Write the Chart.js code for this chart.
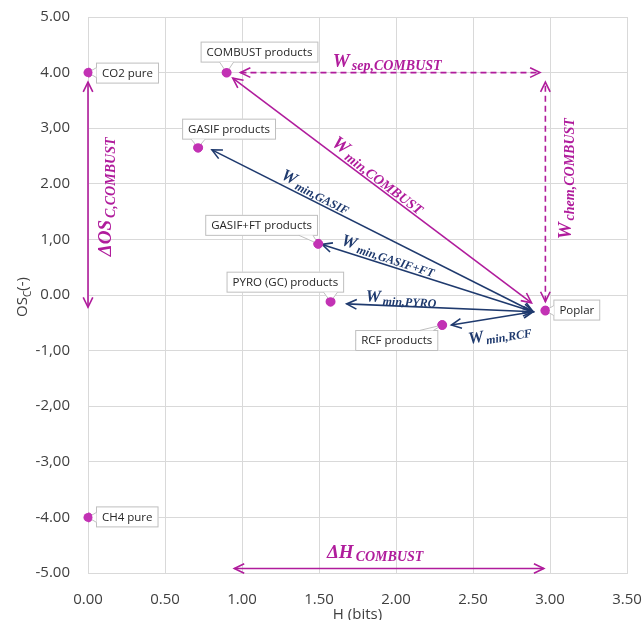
<!DOCTYPE html>
<html>
<head>
<meta charset="utf-8">
<script src="https://cdn.jsdelivr.net/npm/chart.js@4.4.1/dist/chart.umd.min.js"></script>
<style>
  html, body { margin: 0; padding: 0; background: #fff; }
</style>
</head>
<body>
<canvas id="chart" width="642" height="620"></canvas>
<script>
// points (H in bits, OSc)
const pointNames = ["CO2 pure", "COMBUST products", "GASIF products", "GASIF+FT products",
  "PYRO (GC) products", "RCF products", "Poplar", "CH4 pure"];
const hValues = [0, 0.90, 0.715, 1.495, 1.575, 2.30, 2.97, 0];
const oscValues = [4.0, 4.0, 2.65, 0.92, -0.12, -0.54, -0.28, -4.0];

// tick labels as printed on the picture
const xTickLabels = ["0.00", "0.50", "1.00", "1.50", "2.00", "2.50", "3.00", "3.50"];
const yTickValues = [5, 4, 3, 2, 1, 0, -1, -2, -3, -4, -5];
const yTickLabels = ["5.00", "4.00", "3,00", "2.00", "1,00", "0.00", "-1,00", "-2,00", "-3,00", "-4.00", "-5.00"];

// arrows, start -> end in data units
const arrowNames = ["Wmin,COMBUST", "Wmin,GASIF", "Wmin,GASIF+FT", "Wmin,PYRO", "Wmin,RCF",
  "Wsep,COMBUST", "Wchem,COMBUST", "dOSc,COMBUST", "dH,COMBUST"];
const arrowStartH = [0.94, 0.805, 1.52, 1.68, 2.36, 0.99, 2.97, 0, 0.95];
const arrowStartOS = [3.90, 2.61, 0.91, -0.16, -0.54, 4.0, -0.12, -0.22, -4.92];
const arrowEndH = [2.88, 2.89, 2.89, 2.89, 2.89, 2.935, 2.97, 0, 2.96];
const arrowEndOS = [-0.14, -0.30, -0.30, -0.30, -0.30, 4.0, 3.83, 3.83, -4.92];

const magenta = "#b01c9c";
const navy = "#1f3a6e";
const pointColor = "#c232b4";

// how each arrow and its caption look
const arrowStyles = [
  { color: magenta, dash: [], main: "W", sub: "min,COMBUST", t: 0.467, off: 12, size: 19 },
  { color: navy, dash: [], main: "W", sub: "min,GASIF", t: 0.31, off: 11, size: 17 },
  { color: navy, dash: [], main: "W", sub: "min,GASIF+FT", t: 0.30, off: 11, size: 17 },
  { color: navy, dash: [], main: "W", sub: "min,PYRO", t: 0.29, off: 9, size: 17 },
  { color: navy, dash: [], main: "W", sub: "min,RCF", t: 0.56, off: -16, size: 17 },
  { color: magenta, dash: [6, 4], main: "W", sub: "sep,COMBUST", t: 0.49, off: 12, size: 19 },
  { color: magenta, dash: [6, 4], main: "W", sub: "chem,COMBUST", t: 0.56, off: -19, size: 19 },
  { color: magenta, dash: [], main: "ΔOS", sub: "C,COMBUST", t: 0.49, off: -17, size: 19 },
  { color: magenta, dash: [], main: "ΔH", sub: "COMBUST", t: 0.455, off: 17, size: 19 }
];

// label box offsets from the point (left, top)
const labelOffsets = [[8, -10], [-26, -31], [-16, -29], [-113, -29], [-104, -30], [-87, 5], [8, -11], [8, -11]];

function drawCaption(ctx, main, sub, x, y, angle, color, size) {
  const subSize = Math.round(size * 0.72);
  ctx.save();
  ctx.translate(x, y);
  ctx.rotate(angle);
  ctx.fillStyle = color;
  ctx.textBaseline = "alphabetic";
  ctx.font = "bold italic " + size + "px 'Liberation Serif'";
  const w1 = ctx.measureText(main).width;
  ctx.font = "bold italic " + subSize + "px 'Liberation Serif'";
  const w2 = ctx.measureText(sub).width;
  const x0 = -(w1 + 2 + w2) / 2;
  const base = size * 0.33;
  ctx.font = "bold italic " + size + "px 'Liberation Serif'";
  ctx.fillText(main, x0, base);
  ctx.font = "bold italic " + subSize + "px 'Liberation Serif'";
  ctx.fillText(sub, x0 + w1 + 2, base + subSize * 0.25);
  ctx.restore();
}

function arrowHead(ctx, x, y, ang) {
  const len = 11, spread = 0.45;
  ctx.beginPath();
  ctx.moveTo(x - len * Math.cos(ang - spread), y - len * Math.sin(ang - spread));
  ctx.lineTo(x, y);
  ctx.lineTo(x - len * Math.cos(ang + spread), y - len * Math.sin(ang + spread));
  ctx.stroke();
}

const arrowPlugin = {
  id: "arrows",
  beforeDatasetsDraw(chart) {
    const ctx = chart.ctx;
    const xs = chart.scales.x, ys = chart.scales.y;
    arrowNames.forEach((name, i) => {
      const st = arrowStyles[i];
      const x1 = xs.getPixelForValue(arrowStartH[i]), y1 = ys.getPixelForValue(arrowStartOS[i]);
      const x2 = xs.getPixelForValue(arrowEndH[i]), y2 = ys.getPixelForValue(arrowEndOS[i]);
      const ang = Math.atan2(y2 - y1, x2 - x1);
      ctx.save();
      ctx.strokeStyle = st.color;
      ctx.lineWidth = 1.6;
      ctx.setLineDash(st.dash);
      ctx.beginPath();
      ctx.moveTo(x1, y1);
      ctx.lineTo(x2, y2);
      ctx.stroke();
      ctx.setLineDash([]);
      arrowHead(ctx, x2, y2, ang);
      arrowHead(ctx, x1, y1, ang + Math.PI);
      ctx.restore();
      // caption
      const len = Math.hypot(x2 - x1, y2 - y1);
      const nx = (y2 - y1) / len, ny = -(x2 - x1) / len;
      const ax = x1 + (x2 - x1) * st.t + nx * st.off;
      const ay = y1 + (y2 - y1) * st.t + ny * st.off;
      drawCaption(ctx, st.main, st.sub, ax, ay, ang, st.color, st.size);
    });
  },
  afterDatasetsDraw(chart) {
    const ctx = chart.ctx;
    const xs = chart.scales.x, ys = chart.scales.y;
    ctx.save();
    ctx.font = "11.5px 'Open Sans'";
    pointNames.forEach((name, i) => {
      const px = xs.getPixelForValue(hValues[i]), py = ys.getPixelForValue(oscValues[i]);
      const w = ctx.measureText(name).width + 12, h = 21;
      const left = px + labelOffsets[i][0], top = py + labelOffsets[i][1];
      const right = left + w, bottom = top + h;
      ctx.fillStyle = "#fff";
      ctx.strokeStyle = "#bfbfbf";
      ctx.lineWidth = 1;
      ctx.fillRect(left, top, w, h);
      ctx.strokeRect(left + 0.5, top + 0.5, w - 1, h - 1);
      // callout wedge toward the point
      let b1, b2;
      if (py > bottom) {
        const c = Math.min(Math.max(px, left + 12), right - 12);
        b1 = [c - 7, bottom - 0.5]; b2 = [c + 7, bottom - 0.5];
      } else if (py < top) {
        const c = Math.min(Math.max(px, left + 12), right - 12);
        b1 = [c - 7, top + 0.5]; b2 = [c + 7, top + 0.5];
      } else if (px < left) {
        const c = Math.min(Math.max(py, top + 6), bottom - 6);
        b1 = [left + 0.5, c - 5]; b2 = [left + 0.5, c + 5];
      } else {
        const c = Math.min(Math.max(py, top + 6), bottom - 6);
        b1 = [right - 0.5, c - 5]; b2 = [right - 0.5, c + 5];
      }
      ctx.beginPath();
      ctx.moveTo(b1[0], b1[1]);
      ctx.lineTo(px, py);
      ctx.lineTo(b2[0], b2[1]);
      ctx.closePath();
      ctx.fill();
      ctx.beginPath();
      ctx.moveTo(b1[0], b1[1]);
      ctx.lineTo(px, py);
      ctx.lineTo(b2[0], b2[1]);
      ctx.stroke();
      ctx.fillStyle = "#262626";
      ctx.textAlign = "center";
      ctx.textBaseline = "middle";
      ctx.fillText(name, left + w / 2, top + h / 2 + 0.5);
    });
    // redraw points on top of the callouts
    ctx.fillStyle = pointColor;
    pointNames.forEach((name, i) => {
      ctx.beginPath();
      ctx.arc(xs.getPixelForValue(hValues[i]), ys.getPixelForValue(oscValues[i]), 4.5, 0, Math.PI * 2);
      ctx.fill();
    });
    // axis titles
    const area = chart.chartArea;
    ctx.fillStyle = "#404040";
    ctx.textBaseline = "alphabetic";
    ctx.font = "15px 'Open Sans'";
    ctx.textAlign = "center";
    ctx.fillText("H (bits)", (area.left + area.right) / 2, 619);
    ctx.translate(22, (area.top + area.bottom) / 2 + 2);
    ctx.rotate(-Math.PI / 2);
    ctx.font = "15px 'Open Sans'";
    const wa = ctx.measureText("OS").width;
    const wc = ctx.measureText("(-)").width;
    ctx.font = "10px 'Open Sans'";
    const wb = ctx.measureText("C").width;
    let x0 = -(wa + wb + wc) / 2;
    ctx.textAlign = "left";
    ctx.font = "15px 'Open Sans'";
    ctx.fillText("OS", x0, 5);
    ctx.font = "10px 'Open Sans'";
    ctx.fillText("C", x0 + wa, 9);
    ctx.font = "15px 'Open Sans'";
    ctx.fillText("(-)", x0 + wa + wb, 5);
    ctx.restore();
  }
};

new Chart(document.getElementById("chart"), {
  type: "scatter",
  data: {
    datasets: [{
      data: pointNames.map((n, i) => ({ x: hValues[i], y: oscValues[i] })),
      backgroundColor: pointColor,
      borderColor: pointColor,
      pointRadius: 4.5,
      pointHoverRadius: 4.5
    }]
  },
  options: {
    responsive: false,
    animation: false,
    devicePixelRatio: 1,
    layout: { padding: { top: 17, right: 15, left: 0, bottom: 0 } },
    plugins: { legend: { display: false }, tooltip: { enabled: false } },
    scales: {
      x: {
        type: "linear",
        min: 0,
        max: 3.5,
        ticks: {
          stepSize: 0.5,
          padding: 18,
          color: "#404040",
          font: { family: "'Open Sans'", size: 15 },
          callback: (v) => xTickLabels[Math.round(v / 0.5)]
        },
        grid: { color: "#d9d9d9", drawTicks: false },
        border: { color: "#d9d9d9" },
        afterFit: (s) => { s.height = 47; s.paddingLeft = 0; s.paddingRight = 0; }
      },
      y: {
        min: -5,
        max: 5,
        ticks: {
          stepSize: 1,
          padding: 18,
          color: "#404040",
          font: { family: "'Open Sans'", size: 15 },
          callback: (v) => yTickLabels[yTickValues.indexOf(v)]
        },
        grid: { color: "#d9d9d9", drawTicks: false },
        border: { color: "#d9d9d9" },
        afterFit: (s) => { s.width = 88; s.paddingTop = 0; s.paddingBottom = 0; }
      }
    }
  },
  plugins: [arrowPlugin]
});
</script>
</body>
</html>
